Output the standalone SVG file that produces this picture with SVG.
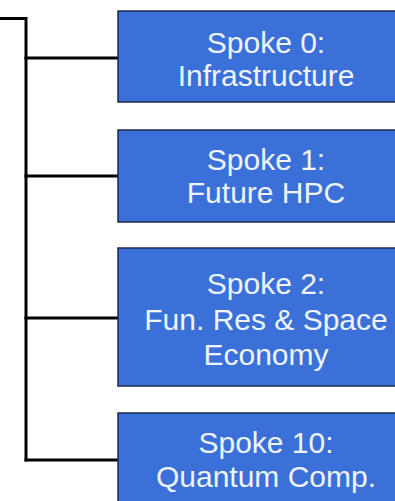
<svg xmlns="http://www.w3.org/2000/svg" width="395" height="501" viewBox="0 0 395 501">
  <style>
    .spoke rect { fill: #3a70d8; stroke: #1b2a4e; stroke-width: 1.5; }
    .spoke text { font-family: "Liberation Sans", Arial, sans-serif; font-size: 30px; fill: #eef4fb; text-anchor: middle; }
    .wire { fill: none; stroke: #000; stroke-width: 3; stroke-linecap: square; }
  </style>
  <rect width="395" height="501" fill="#ffffff"/>

  <!-- trunk and branches -->
  <g id="connectors" class="wire">
    <path d="M0 18.5 H26 V460"/>
    <path d="M26 58 H118"/>
    <path d="M26 176 H118"/>
    <path d="M26 318 H118"/>
    <path d="M26 460 H118"/>
  </g>

  <g id="spoke0" class="spoke">
    <rect x="118" y="11" width="296" height="91"/>
    <text x="266" y="53">Spoke 0:</text>
    <text x="266" y="86">Infrastructure</text>
  </g>

  <g id="spoke1" class="spoke">
    <rect x="118" y="130" width="296" height="92"/>
    <text x="266" y="170">Spoke 1:</text>
    <text x="266" y="203">Future HPC</text>
  </g>

  <g id="spoke2" class="spoke">
    <rect x="118" y="248" width="296" height="138"/>
    <text x="266" y="294">Spoke 2:</text>
    <text x="266" y="330">Fun. Res &amp; Space</text>
    <text x="266" y="365">Economy</text>
  </g>

  <g id="spoke10" class="spoke">
    <rect x="118" y="413" width="296" height="100"/>
    <text x="266" y="453">Spoke 10:</text>
    <text x="266" y="487">Quantum Comp.</text>
  </g>
</svg>
